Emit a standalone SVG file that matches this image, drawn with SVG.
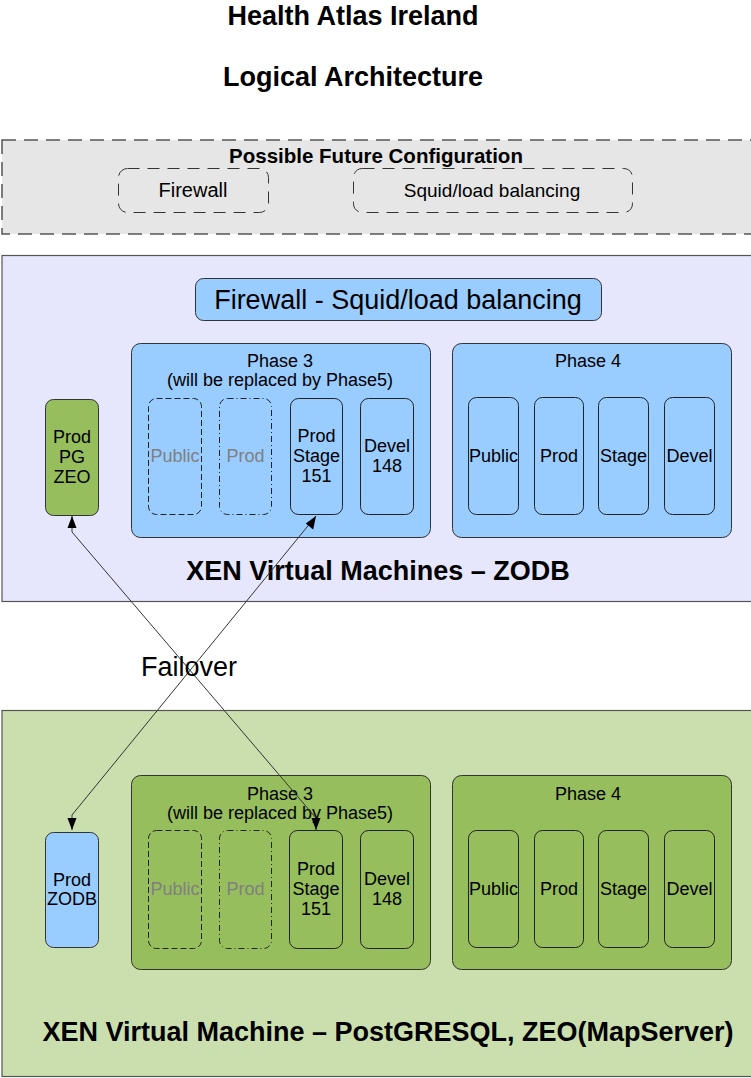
<svg xmlns="http://www.w3.org/2000/svg" width="751" height="1078" viewBox="0 0 751 1078">
<style>
text{font-family:"Liberation Sans",Arial,sans-serif;fill:#000;text-anchor:middle}
.b{font-weight:bold}
.frame{stroke:#555;stroke-width:1.2}
.phase{stroke:#333;stroke-width:1}
.vm{fill:none;stroke:#222;stroke-width:1}
.grey{fill:#808080}
.t17{font-size:18px}
.conn{stroke:#333;stroke-width:1;fill:none}
</style>
<defs>
<marker id="ah" viewBox="0 0 12 10" refX="12" refY="5" markerWidth="12" markerHeight="10" markerUnits="userSpaceOnUse" orient="auto">
<path d="M0,0.5 L12,5 L0,9.5 z" fill="#000"/>
</marker>
</defs>

<g id="title">
<text class="b" x="353" y="25" font-size="27">Health Atlas Ireland</text>
<text class="b" x="353" y="86" font-size="27">Logical Architecture</text>
</g>

<g id="future">
<rect x="2" y="140" width="760" height="94" fill="#e6e6e6" stroke="#555" stroke-width="1.5" stroke-dasharray="14,8"/>
<text class="b" x="376" y="163" font-size="20.5">Possible Future Configuration</text>
<g id="future-firewall">
<rect x="118.5" y="168.5" width="150" height="44" rx="9" fill="none" stroke="#333" stroke-dasharray="12,8"/>
<text x="193" y="197" font-size="20">Firewall</text>
</g>
<g id="future-squid">
<rect x="353.5" y="168.5" width="279" height="44" rx="9" fill="none" stroke="#333" stroke-dasharray="12,8"/>
<text x="492" y="197" font-size="19">Squid/load balancing</text>
</g>
</g>

<g id="zodb-vm">
<rect class="frame" x="2" y="255.5" width="760" height="346" fill="#e6e6fc"/>
<text class="b" x="378" y="580" font-size="27">XEN Virtual Machines – ZODB</text>
</g>

<g id="firewall-squid">
<rect x="195.5" y="278.5" width="406" height="42" rx="8" fill="#99ccff" stroke="#333"/>
<text x="398" y="309" font-size="27">Firewall - Squid/load balancing</text>
</g>

<g id="up-phase3">
<rect class="phase" x="131.5" y="343.5" width="299" height="194" rx="9" fill="#99ccff"/>
<text class="t17" x="280" y="367">Phase 3</text>
<text class="t17" x="280" y="386">(will be replaced by Phase5)</text>
</g>
<g id="up-p3-public">
<rect class="vm" x="148.5" y="398.5" width="53" height="116" rx="8" stroke-dasharray="6,3"/>
<text class="t17 grey" x="175" y="462">Public</text>
</g>
<g id="up-p3-prod">
<rect class="vm" x="219.5" y="398.5" width="52" height="116" rx="8" stroke-dasharray="6,3,1,3"/>
<text class="t17 grey" x="245.5" y="462">Prod</text>
</g>
<g id="up-p3-prodstage">
<rect class="vm" x="290.5" y="398.5" width="52" height="116" rx="8"/>
<text class="t17" x="316.5" y="442">Prod</text>
<text class="t17" x="316.5" y="462">Stage</text>
<text class="t17" x="316.5" y="482">151</text>
</g>
<g id="up-p3-devel">
<rect class="vm" x="360.5" y="398.5" width="53" height="116" rx="8"/>
<text class="t17" x="387" y="452">Devel</text>
<text class="t17" x="387" y="472">148</text>
</g>

<g id="up-phase4">
<rect class="phase" x="452.5" y="343.5" width="279" height="194" rx="9" fill="#99ccff"/>
<text class="t17" x="588" y="367">Phase 4</text>
</g>
<g id="up-p4-public"><rect class="vm" x="468.5" y="397.5" width="50" height="117" rx="8"/><text class="t17" x="493.5" y="462">Public</text></g>
<g id="up-p4-prod"><rect class="vm" x="534.5" y="397.5" width="49" height="117" rx="8"/><text class="t17" x="559" y="462">Prod</text></g>
<g id="up-p4-stage"><rect class="vm" x="598.5" y="397.5" width="50" height="117" rx="8"/><text class="t17" x="623.5" y="462">Stage</text></g>
<g id="up-p4-devel"><rect class="vm" x="664.5" y="397.5" width="50" height="117" rx="8"/><text class="t17" x="689.5" y="462">Devel</text></g>

<g id="prod-pg-zeo">
<rect x="45.5" y="399.5" width="53" height="116" rx="8" fill="#97be5c" stroke="#333"/>
<text class="t17" x="72" y="443">Prod</text>
<text class="t17" x="72" y="463">PG</text>
<text class="t17" x="72" y="483">ZEO</text>
</g>

<g id="pg-vm">
<rect class="frame" x="2" y="710.5" width="760" height="366" fill="#cbdfae"/>
<text class="b" x="388" y="1041" font-size="27">XEN Virtual Machine – PostGRESQL, ZEO(MapServer)</text>
</g>

<g id="lo-phase3">
<rect class="phase" x="131.5" y="775.5" width="299" height="194" rx="9" fill="#97be5c"/>
<text class="t17" x="280" y="800">Phase 3</text>
<text class="t17" x="280" y="819">(will be replaced by Phase5)</text>
</g>
<g id="lo-p3-public">
<rect class="vm" x="148.5" y="830.5" width="53" height="118" rx="8" stroke-dasharray="6,3"/>
<text class="t17 grey" x="175" y="895">Public</text>
</g>
<g id="lo-p3-prod">
<rect class="vm" x="219.5" y="830.5" width="52" height="118" rx="8" stroke-dasharray="6,3,1,3"/>
<text class="t17 grey" x="245.5" y="895">Prod</text>
</g>
<g id="lo-p3-prodstage">
<rect class="vm" x="289.5" y="830.5" width="53" height="118" rx="8"/>
<text class="t17" x="316" y="875">Prod</text>
<text class="t17" x="316" y="895">Stage</text>
<text class="t17" x="316" y="915">151</text>
</g>
<g id="lo-p3-devel">
<rect class="vm" x="360.5" y="830.5" width="53" height="118" rx="8"/>
<text class="t17" x="387" y="885">Devel</text>
<text class="t17" x="387" y="905">148</text>
</g>

<g id="lo-phase4">
<rect class="phase" x="452.5" y="775.5" width="279" height="194" rx="9" fill="#97be5c"/>
<text class="t17" x="588" y="800">Phase 4</text>
</g>
<g id="lo-p4-public"><rect class="vm" x="468.5" y="830.5" width="50" height="117" rx="8"/><text class="t17" x="493.5" y="895">Public</text></g>
<g id="lo-p4-prod"><rect class="vm" x="534.5" y="830.5" width="49" height="117" rx="8"/><text class="t17" x="559" y="895">Prod</text></g>
<g id="lo-p4-stage"><rect class="vm" x="598.5" y="830.5" width="50" height="117" rx="8"/><text class="t17" x="623.5" y="895">Stage</text></g>
<g id="lo-p4-devel"><rect class="vm" x="664.5" y="830.5" width="50" height="117" rx="8"/><text class="t17" x="689.5" y="895">Devel</text></g>

<g id="prod-zodb">
<rect x="45.5" y="832.5" width="53" height="115" rx="8" fill="#99ccff" stroke="#333"/>
<text class="t17" x="72" y="886">Prod</text>
<text class="t17" x="72" y="905">ZODB</text>
</g>

<g id="connectors">
<polyline class="conn" points="72,532 316,818 316,830" marker-end="url(#ah)"/>
<line class="conn" x1="72" y1="532" x2="72" y2="516" marker-end="url(#ah)"/>
<polyline class="conn" points="316,516 72,815 72,830" marker-end="url(#ah)"/>
<path d="M316,516 L305.8,523.5 L313.2,529.5 z" fill="#000"/>
<text x="189" y="676" font-size="27">Failover</text>
</g>
</svg>
